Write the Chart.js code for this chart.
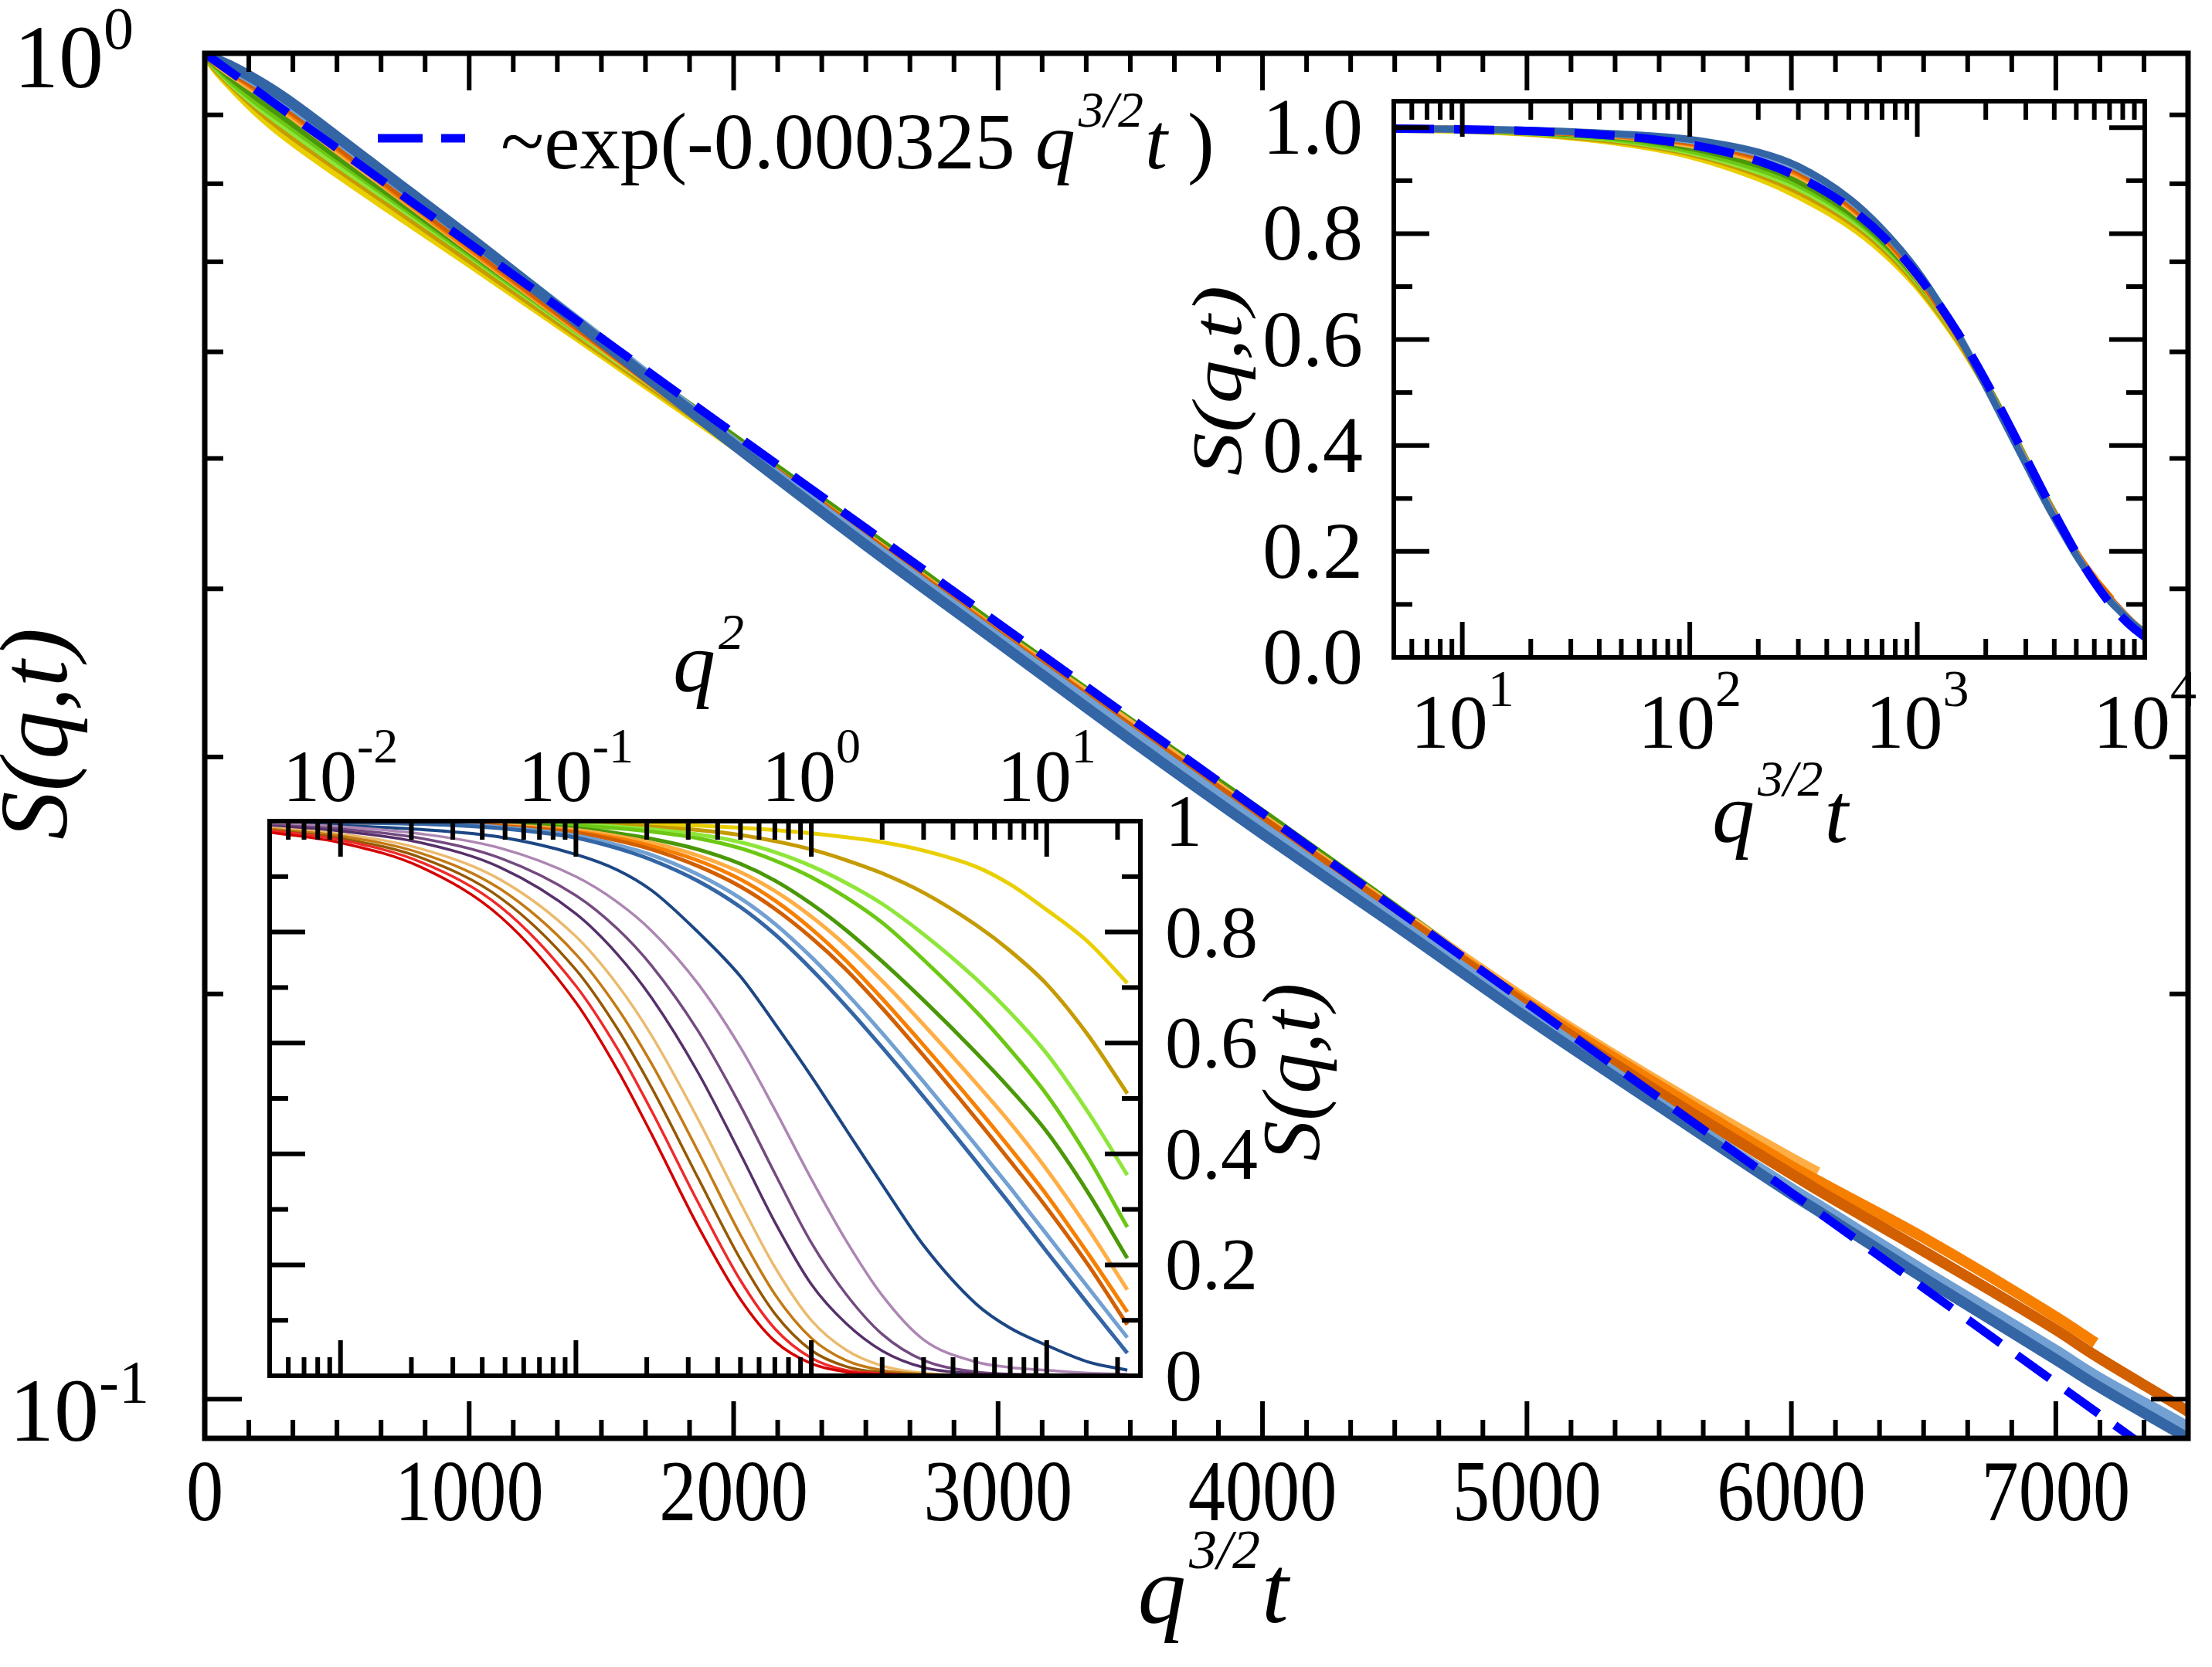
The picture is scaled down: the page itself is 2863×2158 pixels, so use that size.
<!DOCTYPE html>
<html>
<head>
<meta charset="utf-8">
<script src="https://cdn.jsdelivr.net/npm/chart.js@4/dist/chart.umd.min.js"></script>
<style>
    html, body { margin: 0; padding: 0; background: #ffffff; }
    #lienzo { position: relative; width: 2863px; height: 2158px; }
    #lienzo canvas { position: absolute; left: 0; top: 0; }
</style>
</head>
<body>
<div id="lienzo">
    <canvas id="graficoPrincipal" width="2863" height="2158"></canvas>
    <canvas id="recuadroArriba" width="2863" height="2158"></canvas>
    <canvas id="recuadroAbajo" width="2863" height="2158"></canvas>
</div>
<script>
/* ── DATOS: gráfico principal y recuadro superior ──
 Eje x = q^{3/2} t, eje y = S(q,t). Cada serie termina donde termina en la figura. */
var tiempoEscalado = [5, 10, 20, 50, 100, 200, 300, 500, 700, 1000, 1500, 2000, 2500, 3000, 3500, 4000, 4500, 5000, 5500, 6000, 6100, 6500, 7000, 7150, 7500, 8000, 9000, 10000];
var sAmarillo = [0.997, 0.995, 0.989, 0.971, 0.947, 0.905, 0.871, 0.816, 0.767, 0.700, 0.599, 0.512, 0.437];
var sOliva = [0.998, 0.996, 0.990, 0.974, 0.952, 0.913, 0.880, 0.825, 0.775, 0.705, 0.602, 0.514, 0.439, 0.373];
var sVerdeClaro = [0.998, 0.996, 0.991, 0.977, 0.955, 0.918, 0.887, 0.831, 0.781, 0.711, 0.605, 0.516, 0.440, 0.373, 0.318, 0.270];
var sVerde = [0.998, 0.996, 0.992, 0.979, 0.958, 0.923, 0.893, 0.837, 0.785, 0.713, 0.607, 0.517, 0.440, 0.373, 0.318, 0.272, 0.2315];
var sVerdeOscuro = [0.998, 0.997, 0.993, 0.982, 0.963, 0.930, 0.900, 0.842, 0.789, 0.716, 0.608, 0.517, 0.440, 0.373, 0.318, 0.272, 0.2315, 0.197, 0.168];
var sNaranjaClaro = [0.998, 0.997, 0.994, 0.984, 0.968, 0.939, 0.910, 0.850, 0.795, 0.718, 0.607, 0.514, 0.437, 0.371, 0.317, 0.270, 0.231, 0.198, 0.172, 0.151, 0.1474];
var sNaranja = [0.998, 0.997, 0.994, 0.985, 0.971, 0.943, 0.914, 0.854, 0.797, 0.720, 0.608, 0.514, 0.436, 0.370, 0.315, 0.269, 0.230, 0.197, 0.171, 0.149, 0.1453, 0.1318, 0.1151, 0.1101];
var sNaranjaOscuro = [0.998, 0.997, 0.994, 0.986, 0.973, 0.946, 0.918, 0.857, 0.800, 0.723, 0.609, 0.514, 0.436, 0.369, 0.315, 0.269, 0.230, 0.196, 0.169, 0.147, 0.143, 0.1288, 0.1126, 0.1077, 0.0979, 0.0847, 0.0628, 0.0465];
var sAzulClaro = [0.998, 0.997, 0.995, 0.987, 0.976, 0.951, 0.923, 0.864, 0.807, 0.729, 0.613, 0.514, 0.434, 0.368, 0.313, 0.266, 0.227, 0.194, 0.166, 0.1434, 0.1395, 0.1246, 0.1087, 0.1041, 0.0953, 0.0824, 0.0618, 0.0458];
var sAzul = [0.998, 0.997, 0.995, 0.988, 0.978, 0.954, 0.927, 0.867, 0.809, 0.730, 0.611, 0.512, 0.431, 0.365, 0.309, 0.263, 0.225, 0.192, 0.165, 0.142, 0.138, 0.123, 0.107, 0.1025, 0.0935, 0.0817, 0.0612, 0.0461];

var ajusteX = [5, 10, 20, 30, 50, 70, 100, 150, 200, 300, 400, 500, 700, 1000, 1500, 2000, 2500, 3000, 4000, 5000, 6000, 7000, 7500, 8000, 9000, 10000];
var ajusteS = [0.9984, 0.9968, 0.9935, 0.9903, 0.9839, 0.9775, 0.9680, 0.9524, 0.9371, 0.9071, 0.8781, 0.8500, 0.7965, 0.7225, 0.6142, 0.5220, 0.4437, 0.3772, 0.2725, 0.1969, 0.1423, 0.1028, 0.0874, 0.0743, 0.0537, 0.0388];

/* ── DATOS: recuadro inferior ──
 Eje x = q^2 (log), eje y = S(q,t); una curva por cada tiempo */
var q2 = [0.005, 0.01, 0.022, 0.048, 0.1, 0.15, 0.21, 0.33, 0.5, 0.7, 1, 1.4, 2, 3, 5, 7, 10, 15, 22];
var tRojo = [0.980, 0.961, 0.917, 0.827, 0.673, 0.552, 0.435, 0.270, 0.138, 0.0625, 0.022, 0.007, 0.003, 0.001, 0.002, 0, -0.003, 0.001];
var tRojoVivo = [0.983, 0.966, 0.926, 0.845, 0.703, 0.590, 0.477, 0.313, 0.172, 0.085, 0.032, 0.010, 0.004, 0.001, 0, 0, 0, 0];
var tMarron = [0.984, 0.969, 0.934, 0.861, 0.732, 0.626, 0.519, 0.357, 0.210, 0.112, 0.046, 0.017, 0.006, 0.002, 0, 0, 0, 0];
var tOcre = [0.986, 0.973, 0.942, 0.877, 0.760, 0.663, 0.562, 0.405, 0.254, 0.147, 0.068, 0.028, 0.010, 0.003, 0.001, 0, 0, 0];
var tCanela = [0.988, 0.977, 0.950, 0.894, 0.792, 0.705, 0.613, 0.463, 0.312, 0.196, 0.100, 0.047, 0.018, 0.005, 0.001, 0, 0, 0];
var tMoradoOscuro = [0.991, 0.982, 0.961, 0.916, 0.833, 0.760, 0.681, 0.547, 0.400, 0.277, 0.165, 0.095, 0.045, 0.015, 0.004, 0.002, 0.001, 0];
var tMorado = [0.993, 0.986, 0.969, 0.933, 0.866, 0.806, 0.739, 0.622, 0.487, 0.365, 0.240, 0.148, 0.075, 0.028, 0.007, 0.003, 0.002, 0];
var tMalva = [0.995, 0.990, 0.977, 0.951, 0.900, 0.854, 0.802, 0.707, 0.592, 0.480, 0.355, 0.245, 0.145, 0.065, 0.025, 0.015, 0.010, 0.005, 0.003];
var tMarino = [0.995, 0.992, 0.985, 0.971, 0.940, 0.912, 0.875, 0.800, 0.720, 0.635, 0.540, 0.445, 0.345, 0.235, 0.130, 0.086, 0.055, 0.025, 0.010];
var tAzul = [0.999, 0.998, 0.995, 0.987, 0.970, 0.951, 0.930, 0.892, 0.845, 0.796, 0.733, 0.667, 0.592, 0.503, 0.387, 0.309, 0.224, 0.129, 0.041];
var tAzulClaro = [0.999, 0.998, 0.996, 0.989, 0.974, 0.957, 0.939, 0.904, 0.861, 0.815, 0.755, 0.691, 0.618, 0.530, 0.416, 0.339, 0.255, 0.159, 0.069];
var tNaranjaOscuro = [0.999, 0.998, 0.996, 0.991, 0.979, 0.965, 0.949, 0.919, 0.882, 0.842, 0.790, 0.733, 0.663, 0.577, 0.464, 0.387, 0.303, 0.200, 0.092];
var tNaranja = [0.999, 0.998, 0.996, 0.991, 0.981, 0.969, 0.955, 0.929, 0.895, 0.857, 0.806, 0.749, 0.680, 0.596, 0.486, 0.410, 0.326, 0.220, 0.115];
var tNaranjaClaro = [0.999, 0.999, 0.997, 0.993, 0.984, 0.973, 0.961, 0.938, 0.908, 0.874, 0.828, 0.776, 0.712, 0.633, 0.528, 0.456, 0.372, 0.265, 0.155];
var tVerdeOscuro = [1, 0.999, 0.998, 0.995, 0.987, 0.978, 0.968, 0.949, 0.923, 0.893, 0.851, 0.804, 0.747, 0.677, 0.583, 0.517, 0.440, 0.330, 0.212];
var tVerde = [1, 1, 0.999, 0.996, 0.992, 0.987, 0.981, 0.969, 0.951, 0.929, 0.899, 0.863, 0.817, 0.750, 0.657, 0.588, 0.507, 0.393, 0.268];
var tVerdeClaro = [1, 1, 0.999, 0.997, 0.994, 0.990, 0.985, 0.976, 0.962, 0.944, 0.919, 0.889, 0.851, 0.796, 0.716, 0.655, 0.581, 0.475, 0.362];
var tOliva = [1, 1, 0.999, 0.998, 0.996, 0.993, 0.990, 0.984, 0.975, 0.964, 0.949, 0.930, 0.906, 0.871, 0.813, 0.766, 0.706, 0.614, 0.509];
var tAmarillo = [1, 1, 1, 0.999, 0.998, 0.997, 0.995, 0.992, 0.988, 0.984, 0.978, 0.971, 0.962, 0.947, 0.918, 0.886, 0.840, 0.782, 0.708];

/* ── ETIQUETAS DE LOS EJES ── */
var etiquetasPrincipalX = [0, 1000, 2000, 3000, 4000, 5000, 6000, 7000];
var etiquetasPrincipalY = [1, 0.1];
var exponentesPrincipalY = ['0', '-1'];
var etiquetasArribaX = [10, 100, 1000, 10000];
var exponentesArribaX = ['1', '2', '3', '4'];
var etiquetasArribaY = [0, 0.2, 0.4, 0.6, 0.8, 1.0];
var textosArribaY = ['0.0', '0.2', '0.4', '0.6', '0.8', '1.0'];
var etiquetasAbajoX = [0.01, 0.1, 1, 10];
var exponentesAbajoX = ['-2', '-1', '0', '1'];
var etiquetasAbajoY = [0, 0.2, 0.4, 0.6, 0.8, 1];
var textosAbajoY = ['0', '0.2', '0.4', '0.6', '0.8', '1'];

/* ── COLORES ── */
var colores = {
    amarillo: '#e9cf00', oliva: '#c49b00', verdeClaro: '#8ee63a', verde: '#6cc814', verdeOscuro: '#4a9808',
    naranjaClaro: '#ffae45', naranja: '#f77f00', naranjaOscuro: '#d25f00', azulClaro: '#72a0d2', azul: '#3466a6',
    marino: '#1c4784', malva: '#ad86b3', morado: '#744a80', moradoOscuro: '#56306a', canela: '#ebba6e',
    ocre: '#c47a14', marron: '#965800', rojoVivo: '#ef2a2a', rojo: '#d40000', ajuste: '#0000ff'
};

var SERIF = "'Liberation Serif', 'Times New Roman', serif";
Chart.defaults.font.family = SERIF;

/* ── FUNCIÓN: serie ── arma un dataset de línea a partir de dos arreglos */
function serie(xs, ys, color, ancho, orden, extra) {
    var puntos = [];
    for (var i = 0; i < ys.length; i++) {
        puntos.push({ x: xs[i], y: ys[i] });
    }
    var ds = { data: puntos, borderColor: color, borderWidth: ancho, pointRadius: 0, fill: false, order: orden, tension: 0 };
    return Object.assign(ds, extra || {});
}

/* ── FUNCIÓN: menoresLog ── marcas menores 2..9 de cada década */
function menoresLog(min, max) {
    var out = [];
    for (var e = Math.floor(Math.log10(min)); e <= Math.ceil(Math.log10(max)); e++) {
        for (var k = 2; k <= 9; k++) {
            var v = k * Math.pow(10, e);
            if (v >= min && v <= max) out.push(v);
        }
    }
    return out;
}

function pasos(min, max, paso, saltar) {
    var out = [];
    for (var i = 0; min + i * paso <= max + 1e-9; i++) {
        var v = min + i * paso;
        if (!saltar || Math.abs(v / saltar - Math.round(v / saltar)) > 1e-6) out.push(v);
    }
    return out;
}

/* ── FUNCIÓN: textoRico ── dibuja trozos de texto (con superíndices) en línea */
function textoRico(ctx, trozos, x, y, alinear) {
    var total = 0;
    trozos.forEach(function (t) { ctx.font = t.f; total += ctx.measureText(t.t).width + (t.sep || 0); });
    var cx = alinear === 'center' ? x - total / 2 : (alinear === 'right' ? x - total : x);
    ctx.textBaseline = 'alphabetic';
    ctx.textAlign = 'left';
    trozos.forEach(function (t) {
        ctx.font = t.f;
        ctx.fillText(t.t, cx, y + (t.dy || 0));
        cx += ctx.measureText(t.t).width + (t.sep || 0);
    });
}

/* Igual que textoRico pero con un estrechamiento horizontal opcional */
function textoEn(ctx, trozos, x, y, alinear, estrecho) {
    ctx.save();
    ctx.translate(x, y);
    ctx.scale(estrecho || 1, 1);
    textoRico(ctx, trozos, 0, 0, alinear);
    ctx.restore();
}

/* ── PLUGIN: marco ──
 Dibuja el recuadro, las marcas hacia dentro y las etiquetas en estilo xmgrace */
var marcoPlugin = {
    id: 'marco',
    beforeDatasetsDraw: function (chart, args, op) {
        if (!op.fondo) return;
        var a = chart.chartArea, ctx = chart.ctx;
        ctx.save();
        ctx.fillStyle = '#ffffff';
        ctx.fillRect(a.left, a.top, a.right - a.left, a.bottom - a.top);
        ctx.restore();
    },
    afterDraw: function (chart, args, op) {
        var a = chart.chartArea, ctx = chart.ctx;
        ctx.save();
        ctx.fillStyle = '#000000';
        ctx.strokeStyle = '#000000';
        ctx.lineCap = 'butt';
        /* marcas de los ejes */
        (op.marcas || []).forEach(function (m) {
            var esc = chart.scales[m.escala];
            ctx.lineWidth = op.grosorMarca;
            [[m.mayores, op.largoMayor], [m.menores, op.largoMenor]].forEach(function (par) {
                (par[0] || []).forEach(function (v) {
                    if (v < esc.min - 1e-9 || v > esc.max + 1e-9) return;
                    var p = esc.getPixelForValue(v);
                    ctx.beginPath();
                    if (m.lado === 'bottom') { ctx.moveTo(p, a.bottom); ctx.lineTo(p, a.bottom - par[1]); }
                    if (m.lado === 'top') { ctx.moveTo(p, a.top); ctx.lineTo(p, a.top + par[1]); }
                    if (m.lado === 'left') { ctx.moveTo(a.left, p); ctx.lineTo(a.left + par[1], p); }
                    if (m.lado === 'right') { ctx.moveTo(a.right, p); ctx.lineTo(a.right - par[1], p); }
                    ctx.stroke();
                });
            });
        });
        /* recuadro */
        ctx.lineWidth = op.grosor;
        ctx.lineJoin = 'miter';
        ctx.strokeRect(a.left, a.top, a.right - a.left, a.bottom - a.top);
        /* etiquetas de las marcas */
        (op.etiquetas || []).forEach(function (e) {
            var esc = chart.scales[e.escala];
            e.valores.forEach(function (v, i) {
                var p = esc.getPixelForValue(v);
                var trozos = [{ t: e.textos[i], f: e.fuente }];
                if (e.exponentes) trozos.push({ t: e.exponentes[i], f: e.fuenteExp, dy: -e.subir });
                var sep = e.separaciones ? e.separaciones[i] : e.separacion;
                var bajar = e.bajadas ? e.bajadas[i] : e.bajada;
                if (e.lado === 'bottom') textoEn(ctx, trozos, p, a.bottom + sep, 'center', e.estrecho);
                if (e.lado === 'top') textoEn(ctx, trozos, p, a.top - sep, 'center', e.estrecho);
                if (e.lado === 'left') textoEn(ctx, trozos, a.left - sep, p + bajar, 'right', e.estrecho);
                if (e.lado === 'right') textoEn(ctx, trozos, a.right + sep, p + bajar, 'left', e.estrecho);
            });
        });
        /* títulos y leyenda */
        (op.textos || []).forEach(function (t) {
            ctx.save();
            ctx.translate(t.x, t.y);
            if (t.rot) ctx.rotate(t.rot);
            if (t.estira) ctx.scale(t.estira, 1);
            textoRico(ctx, t.trozos, 0, 0, t.alinear || 'center');
            ctx.restore();
        });
        if (op.muestra) {
            var s = op.muestra;
            ctx.strokeStyle = s.color;
            ctx.lineWidth = s.ancho;
            ctx.setLineDash(s.trazo);
            ctx.beginPath();
            ctx.moveTo(s.x0, s.y);
            ctx.lineTo(s.x1, s.y);
            ctx.stroke();
            ctx.setLineDash([]);
        }
        ctx.restore();
    }
};

function fuente(px, cursiva) { return (cursiva ? 'italic ' : '') + px + 'px ' + SERIF; }

function tituloQt(tam, tamExp, subir) {
    return [
        { t: 'q', f: fuente(tam, true), sep: 4 },
        { t: '3/2', f: fuente(tamExp, true), dy: -subir, sep: 2 },
        { t: 't', f: fuente(tam, true) }
    ];
}
function tituloS(tam) {
    return [{ t: 'S(q,t)', f: fuente(tam, true) }];
}

/* ── SERIES DE S vs q^{3/2}t (comunes al principal y al recuadro superior) ── */
function seriesColapso(ancho) {
    var lista = [
        [sAmarillo, colores.amarillo], [sOliva, colores.oliva], [sVerdeClaro, colores.verdeClaro],
        [sVerde, colores.verde], [sVerdeOscuro, colores.verdeOscuro], [sNaranjaClaro, colores.naranjaClaro],
        [sNaranja, colores.naranja], [sNaranjaOscuro, colores.naranjaOscuro], [sAzulClaro, colores.azulClaro],
        [sAzul, colores.azul]
    ];
    var ds = lista.map(function (par, i) {
        return serie(tiempoEscalado, par[0], par[1], ancho, 20 - i, { cubicInterpolationMode: 'monotone' });
    });
    ds.push(serie(ajusteX, ajusteS, colores.ajuste, 11, 0, { borderDash: [52, 26], cubicInterpolationMode: 'monotone' }));
    return ds;
}

/* ── GRÁFICO PRINCIPAL ── */
new Chart(document.getElementById('graficoPrincipal'), {
    type: 'line',
    data: { datasets: seriesColapso(14) },
    options: {
        responsive: false, animation: false, devicePixelRatio: 1,
        layout: { padding: { left: 265, top: 69, right: 31, bottom: 296 } },
        scales: {
            x: { type: 'linear', min: 0, max: 7500, display: false },
            y: { type: 'logarithmic', min: 0.0935, max: 1, display: false }
        },
        plugins: {
            legend: { display: false }, tooltip: { enabled: false },
            marco: {
                grosor: 7, grosorMarca: 6, largoMayor: 48, largoMenor: 24,
                marcas: [
                    { escala: 'x', lado: 'bottom', mayores: pasos(0, 7000, 1000), menores: pasos(0, 7500, 1000 / 6, 1000) },
                    { escala: 'x', lado: 'top', mayores: pasos(0, 7000, 1000), menores: pasos(0, 7500, 1000 / 6, 1000) },
                    { escala: 'y', lado: 'left', mayores: [0.1, 1], menores: menoresLog(0.0935, 1) },
                    { escala: 'y', lado: 'right', mayores: [0.1, 1], menores: menoresLog(0.0935, 1) }
                ],
                etiquetas: [
                    { escala: 'x', lado: 'bottom', valores: etiquetasPrincipalX, textos: etiquetasPrincipalX.map(String), fuente: fuente(112), separacion: 106, estrecho: 0.86 },
                    { escala: 'y', lado: 'left', valores: etiquetasPrincipalY, textos: ['10', '10'], exponentes: exponentesPrincipalY,
                      fuente: fuente(116), fuenteExp: fuente(78), subir: 50, separaciones: [92, 72], bajadas: [44, 54] }
                ],
                textos: [
                    { x: 1570, y: 2100, trozos: tituloQt(125, 72, 70) },
                    { x: 86, y: 950, rot: -Math.PI / 2, trozos: tituloS(125) },
                    { x: 648, y: 218, alinear: 'left', trozos: [
                        { t: '~exp(-0.000325 ', f: fuente(104) },
                        { t: 'q', f: fuente(104, true), sep: 4 },
                        { t: '3/2', f: fuente(66, true), dy: -54, sep: 2 },
                        { t: 't', f: fuente(104, true) },
                        { t: ' )', f: fuente(104) }
                    ] }
                ],
                muestra: { x0: 489, x1: 602, y: 179, ancho: 11, trazo: [58, 24], color: colores.ajuste }
            }
        }
    },
    plugins: [marcoPlugin]
});

/* ── RECUADRO SUPERIOR: colapso en escala log ── */
new Chart(document.getElementById('recuadroArriba'), {
    type: 'line',
    data: { datasets: seriesColapso(9) },
    options: {
        responsive: false, animation: false, devicePixelRatio: 1,
        layout: { padding: { left: 1804, top: 131, right: 87, bottom: 1307 } },
        scales: {
            x: { type: 'logarithmic', min: 5, max: 10000, display: false },
            y: { type: 'linear', min: 0, max: 1.05, display: false }
        },
        plugins: {
            legend: { display: false }, tooltip: { enabled: false },
            marco: {
                fondo: true, grosor: 6, grosorMarca: 6, largoMayor: 46, largoMenor: 24,
                marcas: [
                    { escala: 'x', lado: 'bottom', mayores: [10, 100, 1000, 10000], menores: menoresLog(5, 10000) },
                    { escala: 'x', lado: 'top', mayores: [10, 100, 1000, 10000], menores: menoresLog(5, 10000) },
                    { escala: 'y', lado: 'left', mayores: pasos(0, 1, 0.2), menores: pasos(0.1, 1, 0.2) },
                    { escala: 'y', lado: 'right', mayores: pasos(0, 1, 0.2), menores: pasos(0.1, 1, 0.2) }
                ],
                etiquetas: [
                    { escala: 'x', lado: 'bottom', valores: etiquetasArribaX, textos: ['10', '10', '10', '10'], exponentes: exponentesArribaX,
                      fuente: fuente(100), fuenteExp: fuente(68), subir: 54, separacion: 117 },
                    { escala: 'y', lado: 'left', valores: etiquetasArribaY, textos: textosArribaY, fuente: fuente(104), separacion: 40, bajada: 34 }
                ],
                textos: [
                    { x: 2304, y: 1090, trozos: tituloQt(110, 66, 60) },
                    { x: 1606, y: 493, rot: -Math.PI / 2, estira: 1.22, trozos: tituloS(92) }
                ]
            }
        }
    },
    plugins: [marcoPlugin]
});

/* ── RECUADRO INFERIOR: S(q,t) frente a q^2 para varios tiempos ── */
var curvasTiempo = [
    [tRojo, colores.rojo, 3.5], [tRojoVivo, colores.rojoVivo, 3.5], [tMarron, colores.marron, 3.5],
    [tOcre, colores.ocre, 3.5], [tCanela, colores.canela, 3.5], [tMoradoOscuro, colores.moradoOscuro, 3.5],
    [tMorado, colores.morado, 3.5], [tMalva, colores.malva, 3.5], [tMarino, colores.marino, 4],
    [tAzul, colores.azul, 5], [tAzulClaro, colores.azulClaro, 5], [tNaranjaOscuro, colores.naranjaOscuro, 5],
    [tNaranja, colores.naranja, 5], [tNaranjaClaro, colores.naranjaClaro, 5], [tVerdeOscuro, colores.verdeOscuro, 5],
    [tVerde, colores.verde, 5], [tVerdeClaro, colores.verdeClaro, 5], [tOliva, colores.oliva, 5], [tAmarillo, colores.amarillo, 5]
];

new Chart(document.getElementById('recuadroAbajo'), {
    type: 'line',
    data: {
        datasets: curvasTiempo.map(function (c, i) {
            return serie(q2, c[0], c[1], c[2], i, { cubicInterpolationMode: 'monotone' });
        })
    },
    options: {
        responsive: false, animation: false, devicePixelRatio: 1,
        layout: { padding: { left: 349, top: 1063, right: 1387, bottom: 377 } },
        scales: {
            x: { type: 'logarithmic', min: 0.005, max: 25, display: false },
            y: { type: 'linear', min: 0, max: 1, display: false }
        },
        plugins: {
            legend: { display: false }, tooltip: { enabled: false },
            marco: {
                fondo: true, grosor: 6, grosorMarca: 6, largoMayor: 46, largoMenor: 24,
                marcas: [
                    { escala: 'x', lado: 'bottom', mayores: [0.01, 0.1, 1, 10], menores: menoresLog(0.005, 25) },
                    { escala: 'x', lado: 'top', mayores: [0.01, 0.1, 1, 10], menores: menoresLog(0.005, 25) },
                    { escala: 'y', lado: 'left', mayores: pasos(0, 1, 0.2), menores: pasos(0.1, 1, 0.2) },
                    { escala: 'y', lado: 'right', mayores: pasos(0, 1, 0.2), menores: pasos(0.1, 1, 0.2) }
                ],
                etiquetas: [
                    { escala: 'x', lado: 'top', valores: etiquetasAbajoX, textos: ['10', '10', '10', '10'], exponentes: exponentesAbajoX,
                      fuente: fuente(96), fuenteExp: fuente(64), subir: 50, separacion: 26 },
                    { escala: 'y', lado: 'right', valores: etiquetasAbajoY, textos: textosAbajoY, fuente: fuente(96), separacion: 32, bajada: 32 }
                ],
                textos: [
                    { x: 917, y: 895, trozos: [{ t: 'q', f: fuente(110, true), sep: 4 }, { t: '2', f: fuente(66, true), dy: -55 }] },
                    { x: 1707, y: 1388, rot: -Math.PI / 2, trozos: tituloS(105) }
                ]
            }
        }
    },
    plugins: [marcoPlugin]
});
</script>
</body>
</html>
